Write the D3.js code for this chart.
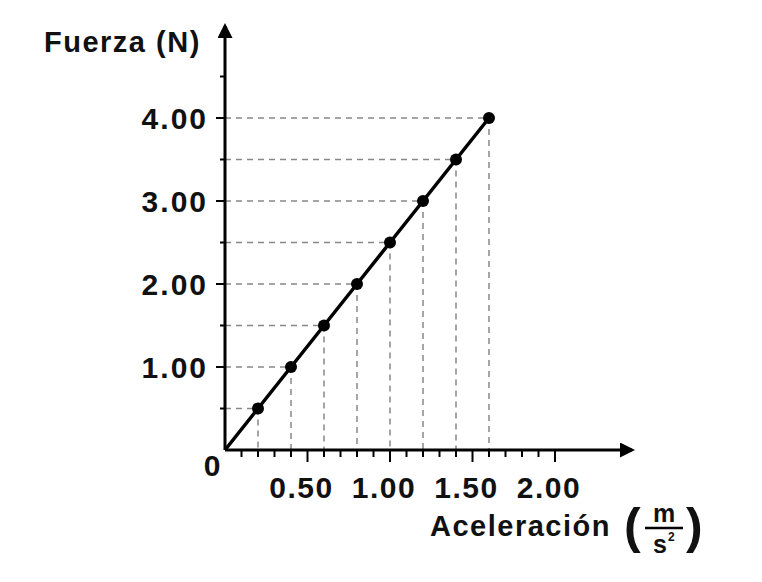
<!DOCTYPE html>
<html><head><meta charset="utf-8">
<script src="https://cdn.jsdelivr.net/npm/d3@7"></script>
<style>body{margin:0;background:#fff}text{font-family:"Liberation Sans",Arial,sans-serif;font-weight:bold;fill:#111}</style>
</head><body><svg width="762" height="582"></svg>
<script>
var accel = [0.2, 0.4, 0.6, 0.8, 1.0, 1.2, 1.4, 1.6];
var force = [0.5, 1.0, 1.5, 2.0, 2.5, 3.0, 3.5, 4.0];
var xLabels = [0.5, 1.0, 1.5, 2.0];
var yLabels = [1, 2, 3, 4];

var svg = d3.select("svg");
var x = d3.scaleLinear().domain([0, 2]).range([225, 555]);
var y = d3.scaleLinear().domain([0, 4]).range([450, 118]);

// dashed guides
accel.forEach(function (a, i) {
    svg.append("line").attr("x1", x(a)).attr("x2", x(a)).attr("y1", y(force[i])).attr("y2", 450)
        .attr("stroke", "#888").attr("stroke-width", 1.5).attr("stroke-dasharray", "6,5");
    svg.append("line").attr("x1", 225).attr("x2", x(a)).attr("y1", y(force[i])).attr("y2", y(force[i]))
        .attr("stroke", "#888").attr("stroke-width", 1.5).attr("stroke-dasharray", "6,5");
});

// axes
svg.append("defs").append("marker").attr("id", "arr").attr("viewBox", "0 0 10 10")
    .attr("refX", 8).attr("refY", 5).attr("markerWidth", 5).attr("markerHeight", 5)
    .attr("orient", "auto").append("path").attr("d", "M0,0L10,5L0,10z").attr("fill", "#000");
svg.append("line").attr("x1", 225).attr("y1", 450).attr("x2", 632).attr("y2", 450)
    .attr("stroke", "#000").attr("stroke-width", 3).attr("marker-end", "url(#arr)");
svg.append("line").attr("x1", 225).attr("y1", 450).attr("x2", 225).attr("y2", 26)
    .attr("stroke", "#000").attr("stroke-width", 3).attr("marker-end", "url(#arr)");

d3.range(1, 21).forEach(function (k) {
    var major = k % 5 === 0;
    svg.append("line").attr("x1", x(k / 10)).attr("x2", x(k / 10)).attr("y1", 450).attr("y2", major ? 462 : 457)
        .attr("stroke", "#000").attr("stroke-width", 2);
});
d3.range(1, 10).forEach(function (k) {
    var major = k % 2 === 0;
    svg.append("line").attr("x1", major ? 216 : 220).attr("x2", 225).attr("y1", y(k / 2)).attr("y2", y(k / 2))
        .attr("stroke", "#000").attr("stroke-width", 2);
});

// labels
svg.selectAll(".yl").data(yLabels).enter().append("text").attr("x", 208).attr("y", function (d) { return y(d) + 11; })
    .attr("text-anchor", "end").attr("font-size", 30).attr("letter-spacing", 2).text(function (d) { return d.toFixed(2); });
svg.selectAll(".xl").data(xLabels).enter().append("text").attr("x", function (d) { return x(d) - 6; }).attr("y", 498)
    .attr("text-anchor", "middle").attr("font-size", 30).attr("letter-spacing", 1.5).text(function (d) { return d.toFixed(2); });
svg.append("text").attr("x", 212).attr("y", 476).attr("text-anchor", "middle").attr("font-size", 30).text("0");
svg.append("text").attr("x", 44).attr("y", 52).attr("font-size", 29).attr("letter-spacing", 1.5).text("Fuerza (N)");
svg.append("text").attr("x", 430).attr("y", 536).attr("font-size", 29).attr("letter-spacing", 1.5).text("Aceleración");
svg.append("text").attr("x", 624).attr("y", 543).attr("font-size", 50).attr("font-weight", "normal").text("(");
svg.append("text").attr("x", 686).attr("y", 543).attr("font-size", 50).attr("font-weight", "normal").text(")");
svg.append("text").attr("x", 664).attr("y", 522).attr("text-anchor", "middle").attr("font-size", 25).text("m");
svg.append("line").attr("x1", 645).attr("x2", 683).attr("y1", 528).attr("y2", 528).attr("stroke", "#000").attr("stroke-width", 2.5);
svg.append("text").attr("x", 660).attr("y", 553).attr("text-anchor", "middle").attr("font-size", 25).text("s");
svg.append("text").attr("x", 668).attr("y", 541).attr("font-size", 12).text("2");

// line and points
svg.append("path").datum([[0, 0]].concat(accel.map(function (a, i) { return [a, force[i]]; })))
    .attr("d", d3.line().x(function (d) { return x(d[0]); }).y(function (d) { return y(d[1]); }))
    .attr("fill", "none").attr("stroke", "#000").attr("stroke-width", 3.5);
svg.selectAll(".pt").data(accel).enter().append("circle")
    .attr("cx", function (d) { return x(d); }).attr("cy", function (d, i) { return y(force[i]); })
    .attr("r", 6).attr("fill", "#000");
</script></body></html>
